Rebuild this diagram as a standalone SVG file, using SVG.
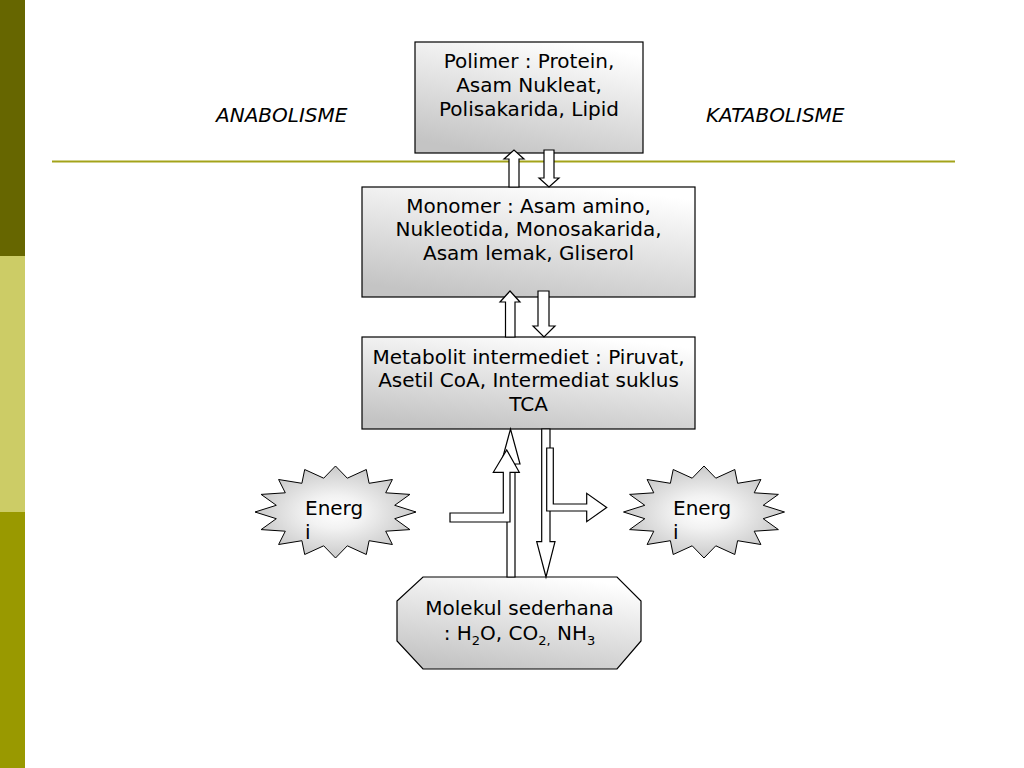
<svg xmlns="http://www.w3.org/2000/svg" width="1024" height="768" viewBox="0 0 1024 768">
<style>
.t{font-family:"DejaVu Sans",Verdana,sans-serif;font-size:20px;fill:#000}
.c{text-anchor:middle}
.it{font-style:italic}
.box{stroke:#000;stroke-width:1.2}
.arr{fill:#fff;stroke:#000;stroke-width:1.2;stroke-linejoin:miter}
.sub{font-size:13px}
</style>
<defs>
<linearGradient id="gb" x1="0.7" y1="0" x2="0.3" y2="1">
<stop offset="0" stop-color="#ffffff"/>
<stop offset="1" stop-color="#c4c4c4"/>
</linearGradient>
<radialGradient id="gs" cx="0.5" cy="0.5" r="0.6">
<stop offset="0" stop-color="#ffffff"/>
<stop offset="0.3" stop-color="#f2f2f2"/>
<stop offset="1" stop-color="#bdbdbd"/>
</radialGradient>
<polygon id="star" points="0,-46 11.8,-33.8 30.8,-42.5 33.6,-28.7 56.9,-32.5 50.2,-19.2 74.4,-17.6 59.2,-6.7 80.5,0 59.2,6.7 74.4,17.6 50.2,19.2 56.9,32.5 33.6,28.7 30.8,42.5 11.8,33.8 0,46 -11.8,33.8 -30.8,42.5 -33.6,28.7 -56.9,32.5 -50.2,19.2 -74.4,17.6 -59.2,6.7 -80.5,0 -59.2,-6.7 -74.4,-17.6 -50.2,-19.2 -56.9,-32.5 -33.6,-28.7 -30.8,-42.5 -11.8,-33.8"/>
</defs>
<rect width="1024" height="768" fill="#ffffff"/>
<g id="sidebar">
<rect x="0" y="0" width="25" height="256" fill="#666600"/>
<rect x="0" y="256" width="25" height="256" fill="#cccc66"/>
<rect x="0" y="512" width="25" height="256" fill="#999900"/>
</g>
<line id="divider" x1="52" y1="161.5" x2="955" y2="161.5" stroke="#a3a31a" stroke-width="2"/>
<text id="anabolisme" class="t it" x="216" y="122">ANABOLISME</text>
<text id="katabolisme" class="t it" x="706" y="122">KATABOLISME</text>
<g id="polimer">
<rect class="box" x="415" y="42" width="228" height="111" fill="url(#gb)"/>
<text class="t c" x="529" y="68">Polimer : Protein,</text>
<text class="t c" x="529" y="92">Asam Nukleat,</text>
<text class="t c" x="529" y="115.5">Polisakarida, Lipid</text>
</g>
<g id="monomer">
<rect class="box" x="362" y="187" width="333" height="110" fill="url(#gb)"/>
<text class="t c" x="528.5" y="212.5">Monomer : Asam amino,</text>
<text class="t c" x="528.5" y="236">Nukleotida, Monosakarida,</text>
<text class="t c" x="528.5" y="259.5">Asam lemak, Gliserol</text>
</g>
<g id="metabolit">
<rect class="box" x="362" y="337" width="333" height="92" fill="url(#gb)"/>
<text class="t c" x="528.5" y="363.5">Metabolit intermediet : Piruvat,</text>
<text class="t c" x="528.5" y="387">Asetil CoA, Intermediat suklus</text>
<text class="t c" x="528.5" y="410.5">TCA</text>
</g>
<g id="molekul">
<polygon class="box" points="423,577 617,577 641,601 641,641 617,669 423,669 397,641 397,601" fill="url(#gb)"/>
<text class="t c" x="519.5" y="615">Molekul sederhana</text>
<text class="t c" x="519.5" y="640">: H<tspan class="sub" dy="5">2</tspan><tspan dy="-5">O, CO</tspan><tspan class="sub" dy="5">2,</tspan><tspan dy="-5"> NH</tspan><tspan class="sub" dy="5">3</tspan></text>
</g>
<g id="energi-left">
<use href="#star" x="335.5" y="512" fill="url(#gs)" stroke="#000" stroke-width="1"/>
<text class="t" x="305" y="515">Energ</text>
<text class="t" x="305" y="538.5">i</text>
</g>
<g id="energi-right">
<use href="#star" x="704" y="512" fill="url(#gs)" stroke="#000" stroke-width="1"/>
<text class="t" x="673" y="515">Energ</text>
<text class="t" x="673" y="538.5">i</text>
</g>
<g id="connectors">
<polygon class="arr" points="509,187 509,159 504,159 514,150 524,159 519,159 519,187"/>
<polygon class="arr" points="544,150 554,150 554,178 559,178 549,187 539,178 544,178"/>
<polygon class="arr" points="505.5,337 505.5,302 500,302 510,291 520,302 515,302 515,337"/>
<polygon class="arr" points="538,291 549,291 549,326 555,326 544,337 533,326 538,326"/>
<polygon class="arr" points="507,577 507,464 501,464 510.5,429 520,464 515,464 515,577"/>
<polygon class="arr" points="450,513 503.3,513 503.3,472.3 493.3,472.3 506.7,450 519.3,472.3 510,472.3 510,522 450,522"/>
<polygon class="arr" points="541.7,429 550,429 550,541.7 555,541.7 546,577 536.7,541.7 541.7,541.7"/>
<polygon class="arr" points="546.7,448 553.3,448 553.3,504 586.7,504 586.7,493.3 606.7,507.5 586.7,521.7 586.7,511 546.7,511"/>
</g>
</svg>
